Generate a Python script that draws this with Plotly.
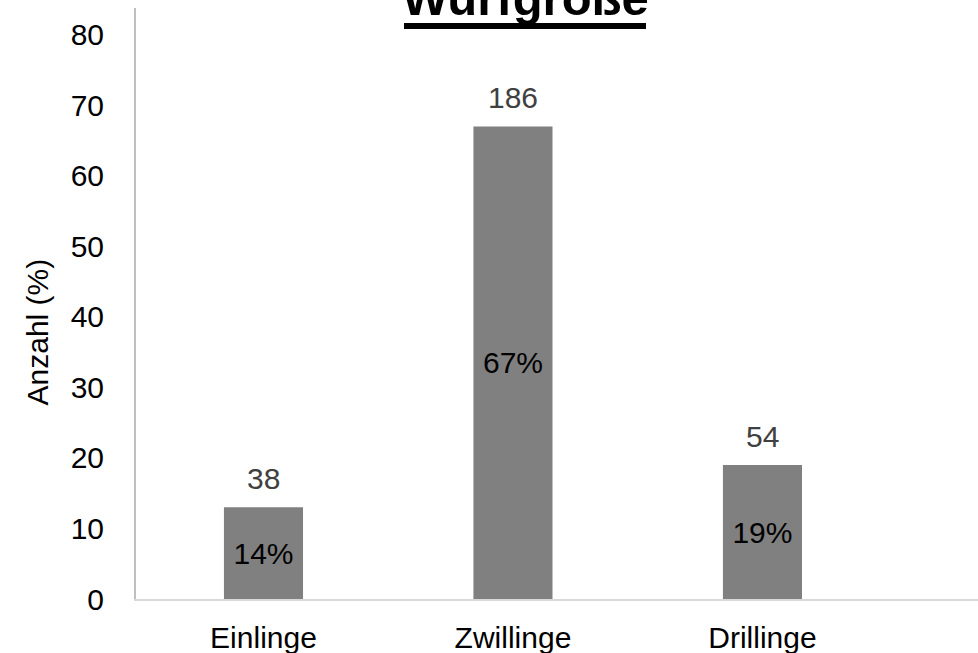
import plotly.graph_objects as go

categories = ["Einlinge", "Zwillinge", "Drillinge"]
percent_values = [13, 67, 19]
counts = [38, 186, 54]
percent_labels = ["14%", "67%", "19%"]

FONT = "Liberation Sans, Arial, sans-serif"

fig = go.Figure()

fig.add_trace(
    go.Bar(
        x = categories,
        y = percent_values,
        width = 0.317,
        marker = dict(color = "#808080", line = dict(width = 0)),
        text = percent_labels,
        textposition = "inside",
        insidetextanchor = "middle",
        textfont = dict(family = FONT, size = 30, color = "#000000"),
        hoverinfo = "skip",
        showlegend = False,
    )
)

# counts above the bars
for cat, val, n in zip(categories, percent_values, counts):
    fig.add_annotation(
        x = cat,
        y = val,
        text = str(n),
        showarrow = False,
        yanchor = "bottom",
        yshift = 10,
        font = dict(family = FONT, size = 30, color = "#404040"),
    )

# title, partly cut off at the top like the original
fig.add_annotation(
    xref = "paper",
    yref = "paper",
    x = (525 - 136) / 842,
    y = (599 + 2) / 591,
    text = "<b>Wurfgröße</b>",
    showarrow = False,
    xanchor = "center",
    yanchor = "middle",
    font = dict(family = FONT, size = 49, color = "#000000"),
)
# thick underline of the title
fig.add_shape(
    type = "line",
    xref = "paper",
    yref = "paper",
    x0 = (404 - 136) / 842,
    x1 = (646 - 136) / 842,
    y0 = (599 - 26) / 591,
    y1 = (599 - 26) / 591,
    line = dict(color = "#000000", width = 6),
)

# y axis title
fig.add_annotation(
    xref = "paper",
    yref = "paper",
    x = (37 - 136) / 842,
    y = (599 - 332.5) / 591,
    text = "Anzahl (%)",
    textangle = -90,
    showarrow = False,
    xanchor = "center",
    yanchor = "middle",
    font = dict(family = FONT, size = 30, color = "#000000"),
)

fig.update_layout(
    width = 978,
    height = 653,
    margin = dict(l = 136, r = 0, t = 8, b = 54, autoexpand = False),
    paper_bgcolor = "white",
    plot_bgcolor = "white",
    font = dict(family = FONT, size = 30, color = "#000000"),
)

fig.update_xaxes(
    type = "category",
    range = [-0.511, 2.864],
    automargin = False,
    showgrid = False,
    showline = True,
    linecolor = "#D9D9D9",
    linewidth = 2,
    ticks = "",
    ticklabelstandoff = 11,
    tickfont = dict(family = FONT, size = 30, color = "#000000"),
)

fig.update_yaxes(
    range = [0, 83.8],
    tickvals = [0, 10, 20, 30, 40, 50, 60, 70, 80],
    automargin = False,
    showgrid = False,
    zeroline = False,
    showline = True,
    linecolor = "#BFBFBF",
    linewidth = 2,
    ticks = "",
    ticklabelstandoff = 24,
    tickfont = dict(family = FONT, size = 30, color = "#000000"),
)

# the page body has a default 8px margin; drop it so the chart fills the window
fig.write_html(
    "out.html",
    config = {"displayModeBar": False},
    post_script = "document.body.style.margin = '0';",
)
